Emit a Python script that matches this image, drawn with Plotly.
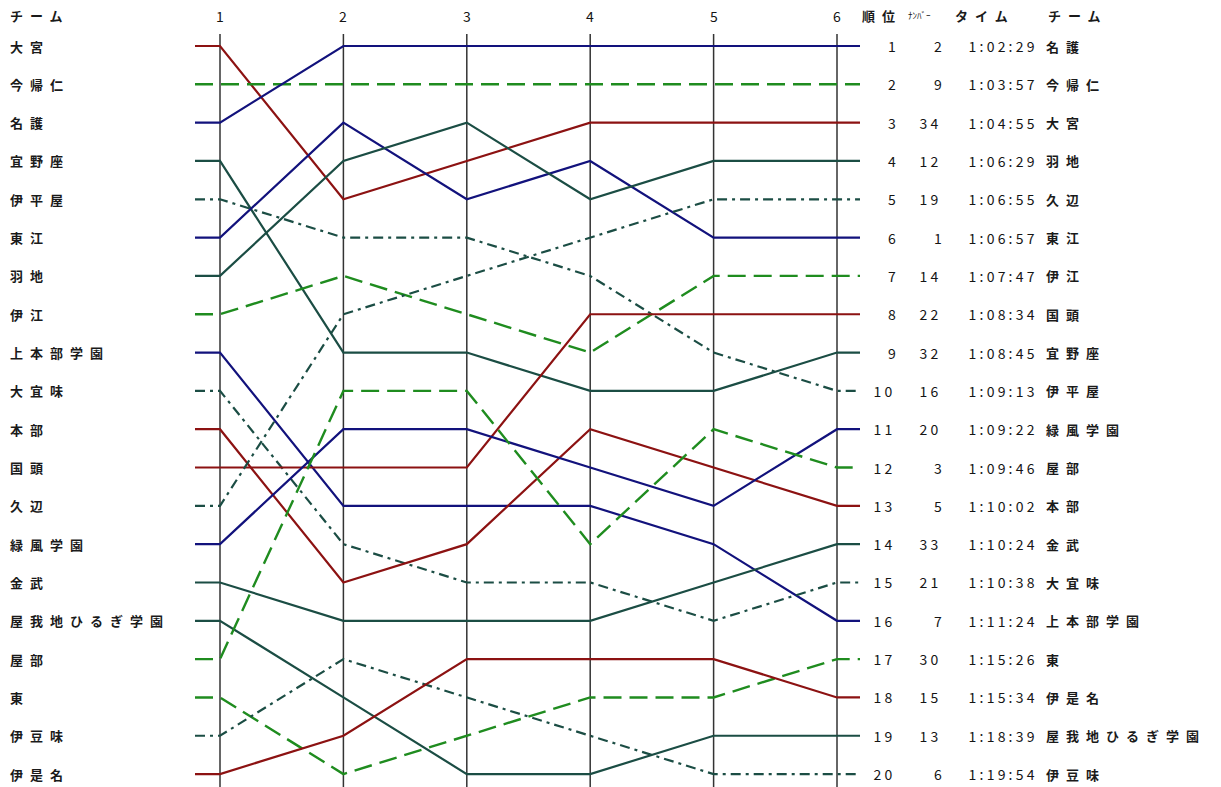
import plotly.graph_objects as go

# ---------------- data ----------------
stages = [1, 2, 3, 4, 5, 6]
stage_labels = ["1", "2", "3", "4", "5", "6"]

# teams in order of the left column (rank after stage 1)
teams = ["大宮", "今帰仁", "名護", "宜野座", "伊平屋", "東江", "羽地", "伊江",
         "上本部学園", "大宜味", "本部", "国頭", "久辺", "緑風学園", "金武",
         "屋我地ひるぎ学園", "屋部", "東", "伊豆味", "伊是名"]

# rank of each team (same order as teams) after each stage
rank_s1 = [1, 2, 3, 4, 5, 6, 7, 8, 9, 10, 11, 12, 13, 14, 15, 16, 17, 18, 19, 20]
rank_s2 = [5, 2, 1, 9, 6, 3, 4, 7, 13, 14, 15, 12, 8, 11, 16, 18, 10, 20, 17, 19]
rank_s3 = [4, 2, 1, 9, 6, 5, 3, 8, 13, 15, 14, 12, 7, 11, 16, 20, 10, 19, 18, 17]
rank_s4 = [3, 2, 1, 10, 7, 4, 5, 9, 13, 15, 11, 8, 6, 12, 16, 20, 14, 18, 19, 17]
rank_s5 = [3, 2, 1, 10, 9, 6, 4, 7, 14, 16, 12, 8, 5, 13, 15, 19, 11, 18, 20, 17]
rank_s6 = [3, 2, 1, 9, 10, 6, 4, 7, 16, 15, 13, 8, 5, 11, 14, 19, 12, 17, 20, 18]

# line group of each team
team_group = ["red", "green", "navy", "teal", "tealdd", "navy", "teal", "green",
              "navy", "tealdd", "red", "red", "tealdd", "navy", "teal",
              "teal", "green", "green", "tealdd", "red"]

# final results table (right side)
final_rank = list(range(1, 21))
final_bib = [2, 9, 34, 12, 19, 1, 14, 22, 32, 16, 20, 3, 5, 33, 21, 7, 30, 15, 13, 6]
final_time = ["1:02:29", "1:03:57", "1:04:55", "1:06:29", "1:06:55", "1:06:57",
              "1:07:47", "1:08:34", "1:08:45", "1:09:13", "1:09:22", "1:09:46",
              "1:10:02", "1:10:24", "1:10:38", "1:11:24", "1:15:26", "1:15:34",
              "1:18:39", "1:19:54"]
final_team = ["名護", "今帰仁", "大宮", "羽地", "久辺", "東江", "伊江", "国頭",
              "宜野座", "伊平屋", "緑風学園", "屋部", "本部", "金武", "大宜味",
              "上本部学園", "東", "伊是名", "屋我地ひるぎ学園", "伊豆味"]

# ---------------- styles ----------------
styles = {
    "red":    dict(color="#8c1212", dash="solid", width=2.2),
    "navy":   dict(color="#12127c", dash="solid", width=2.2),
    "teal":   dict(color="#1b4d44", dash="solid", width=2.2),
    "green":  dict(color="#1f8c1f", dash="18px,8px", width=2.4),
    "tealdd": dict(color="#1b4d44", dash="10px,5px,3px,5px", width=2.2),
}

W, H = 1221, 787
PX_STAGE = 123.4          # pixels between stage columns
PX_ROW = 38.32            # pixels between ranks
x_lo = 1 - 220 / PX_STAGE
x_hi = x_lo + W / PX_STAGE
y_top = 1 - 46 / PX_ROW
y_bot = y_top + H / PX_ROW
STUB_L = 25 / PX_STAGE
STUB_R = 23 / PX_STAGE

FONT = "Noto Sans CJK JP, Noto Sans CJK SC, sans-serif"
TXT = "#151515"
JP = dict(family=FONT, size=13, color="#1a1a1a", weight="bold")
NUM = dict(family=FONT, size=14, color=TXT)

fig = go.Figure()

rank_table = [rank_s1, rank_s2, rank_s3, rank_s4, rank_s5, rank_s6]
for i, name in enumerate(teams):
    rk = [col[i] for col in rank_table]
    xs = [stages[0] - STUB_L] + stages + [stages[-1] + STUB_R]
    ys = [rk[0]] + rk + [rk[-1]]
    st = styles[team_group[i]]
    fig.add_trace(go.Scatter(
        x=xs, y=ys, mode="lines", name=name, hoverinfo="name",
        line=dict(color=st["color"], dash=st["dash"], width=st["width"]),
    ))

# vertical stage lines
for s in stages:
    fig.add_shape(type="line", xref="x", yref="paper", x0=s, x1=s,
                  y0=0, y1=1 - 34 / H, layer="below",
                  line=dict(color="#333333", width=1.5))

ann = []
head_y = 1 - 16 / H
# stage numbers
for s, lab in zip(stages, stage_labels):
    ann.append(dict(x=s, xref="x", y=head_y, yref="paper", text=lab,
                    showarrow=False, xanchor="center", yanchor="middle",
                    font=NUM))


def hdr(px, text, font):
    ann.append(dict(x=px / W, xref="paper", y=head_y, yref="paper", text=text,
                    showarrow=False, xanchor="left", yanchor="middle", align="left",
                    font=font))


hdr(8, "チーム", JP)
hdr(860, "順位", JP)
hdr(906, "ﾅﾝﾊﾞｰ", dict(family=FONT, size=9, color=TXT))
hdr(953, "タイム", JP)
hdr(1046, "チーム", JP)

# left team names
for i, name in enumerate(teams):
    ann.append(dict(x=8 / W, xref="paper", y=rank_s1[i], yref="y", text=name,
                    showarrow=False, xanchor="left", yanchor="middle", align="left",
                    font=JP))

# right results table
for r, b, t, n in zip(final_rank, final_bib, final_time, final_team):
    ann.append(dict(x=898 / W, xref="paper", y=r, yref="y", text=str(r),
                    showarrow=False, xanchor="right", yanchor="middle", align="right",
                    font=NUM))
    ann.append(dict(x=944 / W, xref="paper", y=r, yref="y", text=str(b),
                    showarrow=False, xanchor="right", yanchor="middle", align="right",
                    font=NUM))
    ann.append(dict(x=1040 / W, xref="paper", y=r, yref="y", text=t,
                    showarrow=False, xanchor="right", yanchor="middle", align="right",
                    font=NUM))
    ann.append(dict(x=1044 / W, xref="paper", y=r, yref="y", text=n,
                    showarrow=False, xanchor="left", yanchor="middle", align="left",
                    font=JP))

fig.update_layout(
    width=W, height=H,
    margin=dict(l=0, r=0, t=0, b=0),
    paper_bgcolor="white", plot_bgcolor="white",
    showlegend=False,
    xaxis=dict(range=[x_lo, x_hi], visible=False, fixedrange=True),
    yaxis=dict(range=[y_bot, y_top], visible=False, fixedrange=True),
    annotations=ann,
)

post = """
document.body.style.margin = '0';
document.body.style.overflow = 'hidden';
document.querySelectorAll('.annotation-text').forEach(function(t){
  var s = t.textContent;
  if (/^[0-9:]+$/.test(s)) { t.style.letterSpacing = (s.length > 1) ? '3.2px' : '0px'; }
  else if (s === 'ﾅﾝﾊﾞｰ') { t.style.letterSpacing = '0px'; }
  else { t.style.letterSpacing = '7px'; }
});
"""

fig.write_html("out.html", config={"displayModeBar": False}, post_script=post)
